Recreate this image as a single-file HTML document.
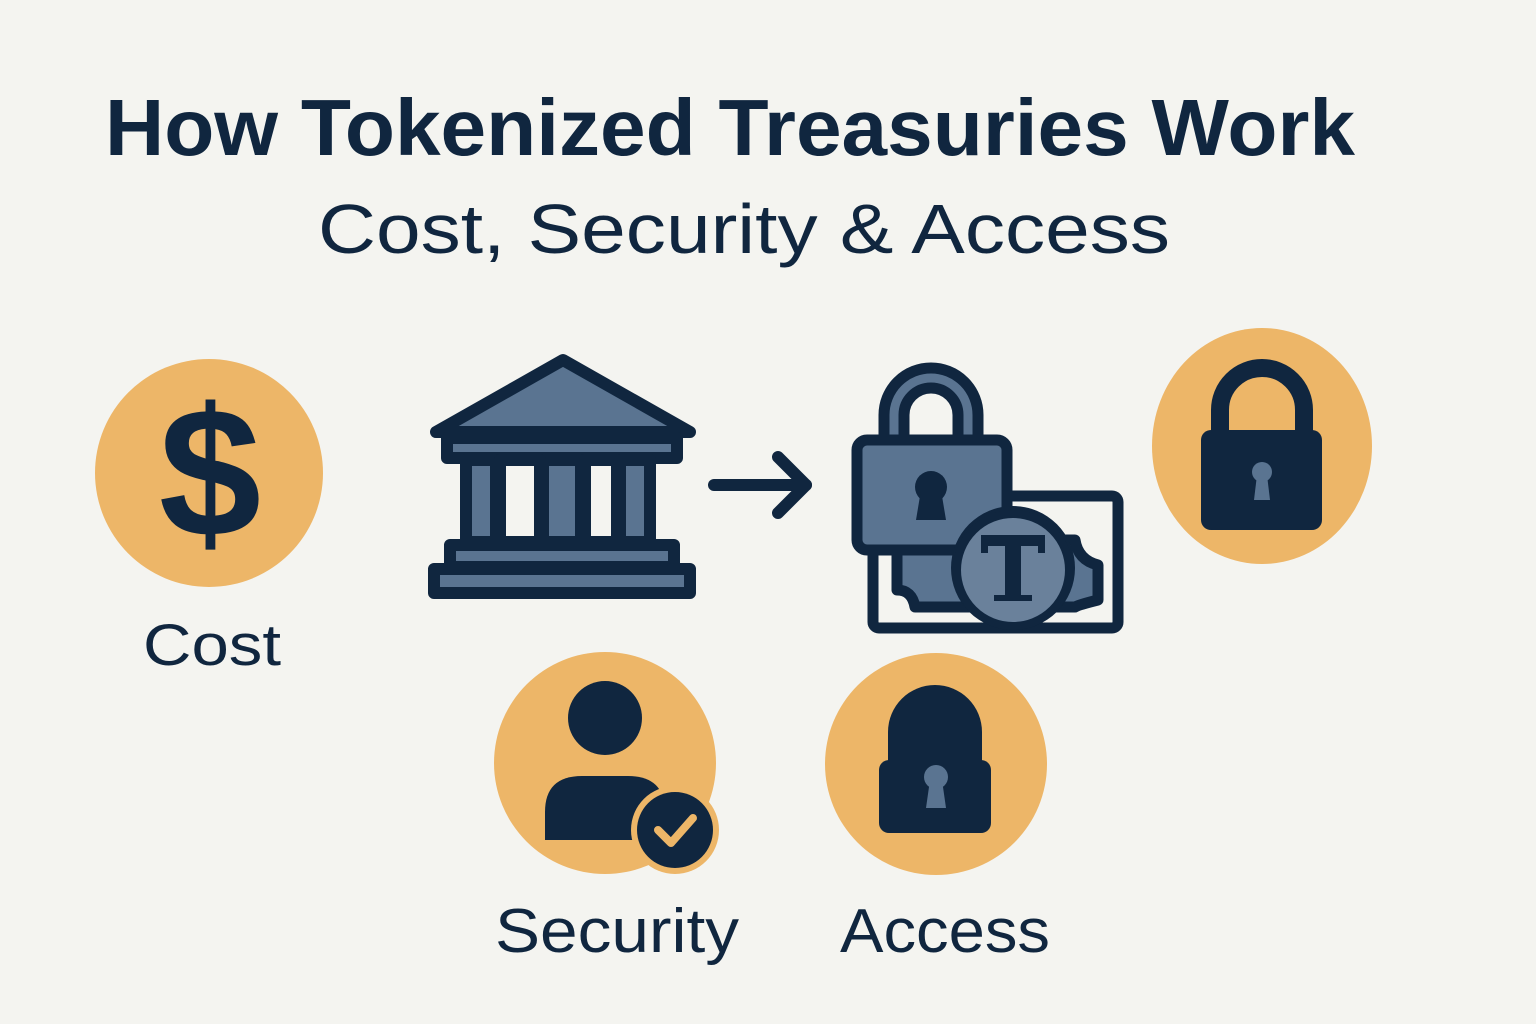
<!DOCTYPE html>
<html><head><meta charset="utf-8"><style>
html,body{margin:0;padding:0;background:#f4f4f0;}
svg{display:block;}
text{font-family:"Liberation Sans",sans-serif;fill:#10263f;}
</style></head><body>
<svg width="1536" height="1024" viewBox="0 0 1536 1024" xmlns="http://www.w3.org/2000/svg">
<rect width="1536" height="1024" fill="#f4f4f0"/>
<text x="730" y="155" text-anchor="middle" font-size="80" font-weight="bold" textLength="1250" lengthAdjust="spacingAndGlyphs">How Tokenized Treasuries Work</text>
<text x="744" y="253" text-anchor="middle" font-size="70" textLength="852" lengthAdjust="spacingAndGlyphs">Cost, Security &amp; Access</text>

<!-- Cost -->
<circle cx="209" cy="473" r="114" fill="#edb668"/>
<text x="210" y="536" text-anchor="middle" font-size="184" font-weight="bold">$</text>
<text x="212" y="665" text-anchor="middle" font-size="58" textLength="138" lengthAdjust="spacingAndGlyphs">Cost</text>

<!-- Bank -->
<g stroke="#10263f" stroke-width="12" stroke-linejoin="round" fill="#5a7491">
<polygon points="563,360 436,432 690,432"/>
<rect x="447" y="438" width="230" height="20"/>
<rect x="466" y="460" width="30" height="82"/>
<rect x="543" y="460" width="38" height="82" />
<rect x="620" y="460" width="30" height="82"/>
<rect x="500" y="460" width="40" height="82" fill="#f4f4f0"/>
<rect x="585" y="460" width="32" height="82" fill="#f4f4f0"/>
<rect x="450" y="545" width="224" height="22"/>
<rect x="434" y="569" width="256" height="24"/>
</g>
<!-- Arrow -->
<g stroke="#10263f" stroke-width="12" stroke-linecap="round" stroke-linejoin="round" fill="none">
<line x1="714" y1="485" x2="806" y2="485"/>
<polyline points="778,457 806,485 778,513"/>
</g>

<!-- Lock + bill -->
<g stroke="#10263f" stroke-width="11" stroke-linejoin="round">
<path d="M884 445 V415 A47 47 0 0 1 978 415 V445 H958 V415 A27 27 0 0 0 904 415 V445 Z" fill="#5a7491"/>
<rect x="873" y="496" width="245" height="132" rx="6" fill="#f4f4f0"/>
<path d="M897 540 H1075 Q1078 560 1098 565 V600 Q1078 605 1075 607 H915 Q912 590 897 590 Z" fill="#5a7491"/>
<rect x="857" y="440" width="150" height="110" rx="10" fill="#5a7491"/>
<circle cx="1013" cy="568" r="62" fill="#10263f" stroke="none"/>
<circle cx="1013" cy="570" r="56" fill="#6a819b" stroke="#10263f" stroke-width="8"/>
</g>
<circle cx="931" cy="487" r="16" fill="#10263f"/>
<polygon points="921,490 941,490 946,520 916,520" fill="#10263f"/>
<path d="M981 535 H1045 V553 H1038 V546 H1021 V595 H1032 V601 H994 V595 H1005 V546 H988 V553 H981 Z" fill="#10263f"/>

<!-- Right lock circle -->
<ellipse cx="1262" cy="446" rx="110" ry="118" fill="#edb668"/>
<path d="M1220 440 V410 A42 42 0 0 1 1304 410 V440" fill="none" stroke="#10263f" stroke-width="18"/>
<rect x="1201" y="430" width="121" height="100" rx="10" fill="#10263f"/>
<circle cx="1262" cy="472" r="10" fill="#5a7491"/>
<polygon points="1257,475 1267,475 1270,500 1254,500" fill="#5a7491"/>

<!-- Security -->
<circle cx="605" cy="763" r="111" fill="#edb668"/>
<circle cx="605" cy="718" r="37" fill="#10263f"/>
<path d="M545 840 V812 Q545 776 582 776 H628 Q665 776 665 812 V840 Z" fill="#10263f"/>
<circle cx="675" cy="830" r="44" fill="#edb668"/>
<circle cx="675" cy="830" r="38" fill="#10263f"/>
<polyline points="658,830 671,843 693,818" fill="none" stroke="#edb668" stroke-width="8" stroke-linecap="round" stroke-linejoin="round"/>
<text x="617" y="952" text-anchor="middle" font-size="62" textLength="244" lengthAdjust="spacingAndGlyphs">Security</text>

<!-- Access -->
<circle cx="936" cy="764" r="111" fill="#edb668"/>
<path d="M888 770 V732 A47 47 0 0 1 982 732 V770 Z" fill="#10263f"/>
<rect x="879" y="760" width="112" height="73" rx="10" fill="#10263f"/>
<circle cx="936" cy="777" r="12" fill="#5a7491"/>
<polygon points="930,780 942,780 946,808 926,808" fill="#5a7491"/>
<text x="945" y="952" text-anchor="middle" font-size="62" textLength="210" lengthAdjust="spacingAndGlyphs">Access</text>
</svg>
</body></html>
